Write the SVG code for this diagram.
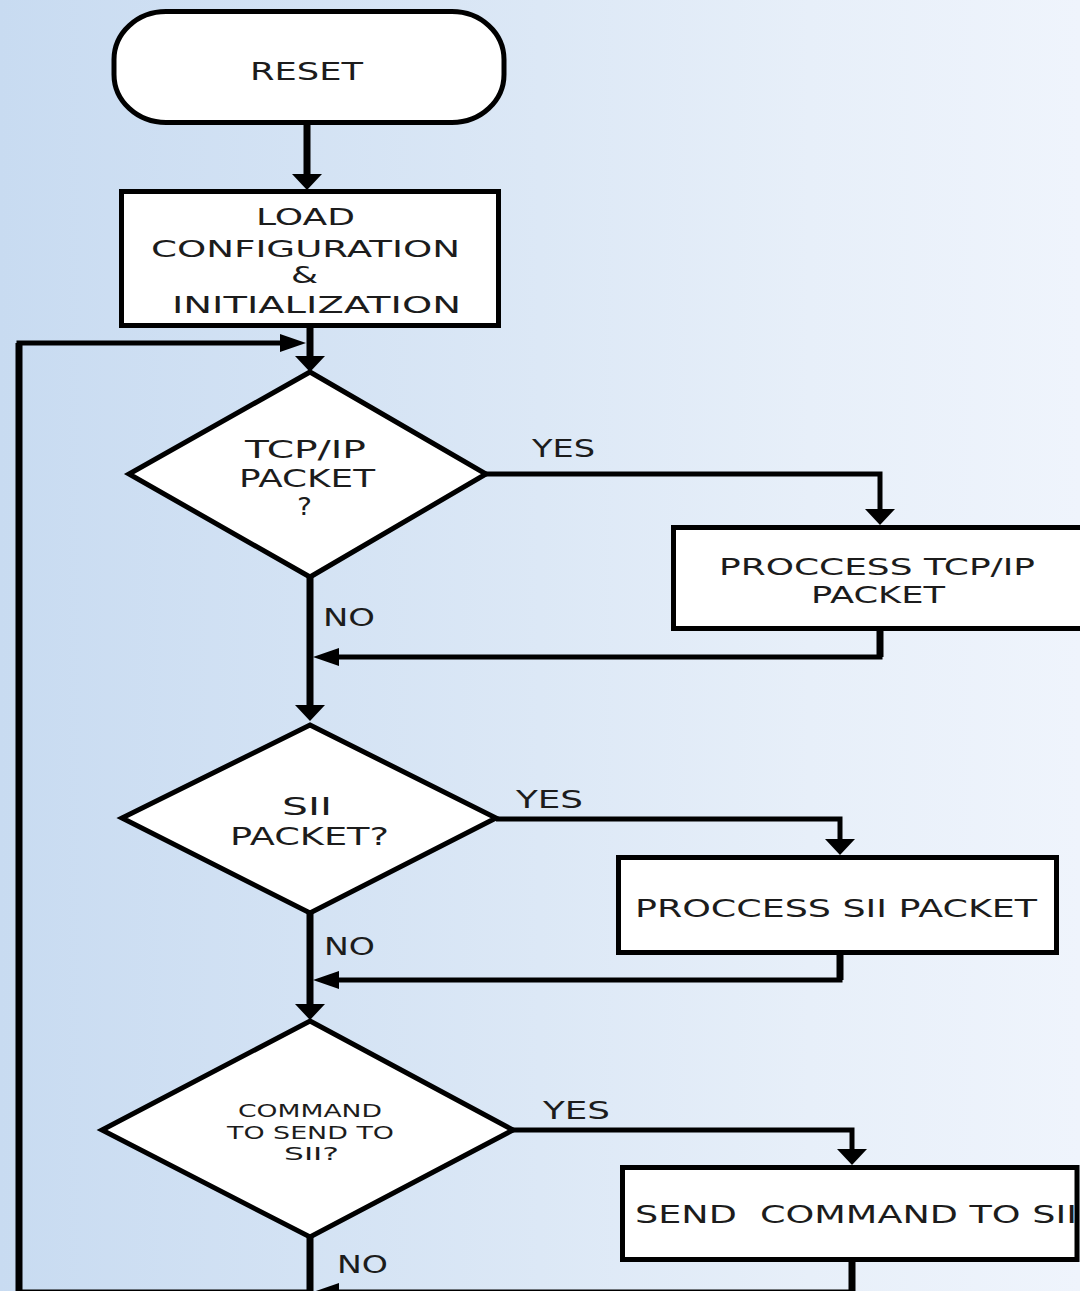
<svg xmlns="http://www.w3.org/2000/svg" width="1080" height="1291" viewBox="0 0 1080 1291">
<defs>
<linearGradient id="bg" x1="0" y1="0" x2="1" y2="0">
<stop offset="0" stop-color="#c8dbf1"/>
<stop offset="0.5" stop-color="#dce8f6"/>
<stop offset="0.75" stop-color="#e7eff9"/>
<stop offset="1" stop-color="#eff4fc"/>
</linearGradient>
<marker id="arrD" markerUnits="userSpaceOnUse" viewBox="0 0 16 30" refX="6" refY="15" markerWidth="16" markerHeight="30" orient="auto">
<path d="M0,0 L16,15 L0,30 Z" fill="#000"/>
</marker>
<marker id="arrH" markerUnits="userSpaceOnUse" viewBox="0 0 26 18" refX="12" refY="9" markerWidth="26" markerHeight="18" orient="auto">
<path d="M0,0 L26,9 L0,18 Z" fill="#000"/>
</marker>
<style>
.shape{fill:#fff;stroke:#000;stroke-width:5}
.t{font-family:"DejaVu Sans",Verdana,"Liberation Sans",sans-serif;fill:#1c1c1c;text-anchor:middle}
.c{fill:none;stroke:#000;stroke-width:5;stroke-linejoin:miter}
.v{fill:none;stroke:#000;stroke-width:7}
</style>
</defs>
<rect x="0" y="0" width="1080" height="1291" fill="url(#bg)"/>

<g id="connectors">
<path class="v" d="M307,124 V180" marker-end="url(#arrD)"/>
<path class="v" d="M310,328 V362" marker-end="url(#arrD)"/>
<path class="c" d="M19,1295 V343 H292" marker-end="url(#arrH)"/>
<path class="c" d="M486,474 H880 V515" marker-end="url(#arrD)"/>
<path class="c" d="M880,631 V657 H327" marker-end="url(#arrH)"/>
<path class="v" d="M310,577 V711" marker-end="url(#arrD)"/>
<path class="c" d="M496,819 H840 V845" marker-end="url(#arrD)"/>
<path class="c" d="M840,955 V980 H327" marker-end="url(#arrH)"/>
<path class="v" d="M310,913 V1010" marker-end="url(#arrD)"/>
<path class="c" d="M513,1130 H852 V1155" marker-end="url(#arrD)"/>
<path class="c" d="M852,1262 V1292 H327" marker-end="url(#arrH)"/>
<path class="c" d="M19,1292 H310"/>
<path class="v" d="M310,1237 V1295"/>
<path class="v" d="M19,1295 V343"/>
<path class="v" d="M880,631 V657"/>
<path class="v" d="M840,955 V980"/>
<path class="v" d="M852,1262 V1295"/>
</g>

<g id="reset">
<rect class="shape" x="114" y="11.5" width="390" height="111" rx="52" ry="48" stroke-width="4.5"/>
<text class="t" transform="scale(1.4,1)" x="218.93" y="80" font-size="25" textLength="80.71" lengthAdjust="spacingAndGlyphs">RESET</text>
</g>

<g id="load">
<rect class="shape" x="121.5" y="191.5" width="377" height="134"/>
<text class="t" transform="scale(1.4,1)" x="218.21" y="225" font-size="23" textLength="70.71" lengthAdjust="spacingAndGlyphs">LOAD</text>
<text class="t" transform="scale(1.4,1)" x="218.21" y="257" font-size="23" textLength="220.71" lengthAdjust="spacingAndGlyphs">CONFIGURATION</text>
<text class="t" transform="scale(1.4,1)" x="217.5" y="283" font-size="23" textLength="19.29" lengthAdjust="spacingAndGlyphs">&amp;</text>
<text class="t" transform="scale(1.4,1)" x="226.07" y="313" font-size="23" textLength="206.43" lengthAdjust="spacingAndGlyphs">INITIALIZATION</text>
</g>

<g id="tcpip-decision">
<polygon class="shape" points="310,372 486,474 310,577 129,474"/>
<text class="t" transform="scale(1.4,1)" x="218.21" y="458" font-size="24" textLength="86.43" lengthAdjust="spacingAndGlyphs">TCP/IP</text>
<text class="t" transform="scale(1.4,1)" x="219.29" y="487" font-size="24" textLength="97.14" lengthAdjust="spacingAndGlyphs">PACKET</text>
<text class="t" transform="scale(1.4,1)" x="217.5" y="515" font-size="24" textLength="10.71" lengthAdjust="spacingAndGlyphs">?</text>
</g>

<g id="process-tcpip">
<rect class="shape" x="673.5" y="527.5" width="420" height="101"/>
<text class="t" transform="scale(1.4,1)" x="626.43" y="575" font-size="23" textLength="225.71" lengthAdjust="spacingAndGlyphs">PROCCESS TCP/IP</text>
<text class="t" transform="scale(1.4,1)" x="627.14" y="603" font-size="23" textLength="95.71" lengthAdjust="spacingAndGlyphs">PACKET</text>
</g>

<g id="sii-decision">
<polygon class="shape" points="310,725 496,818 310,913 122,818"/>
<text class="t" transform="scale(1.4,1)" x="219.29" y="815" font-size="24" textLength="35.71" lengthAdjust="spacingAndGlyphs">SII</text>
<text class="t" transform="scale(1.4,1)" x="221.07" y="845" font-size="24" textLength="113.57" lengthAdjust="spacingAndGlyphs">PACKET?</text>
</g>

<g id="process-sii">
<rect class="shape" x="618.5" y="857.5" width="438" height="95"/>
<text class="t" transform="scale(1.4,1)" x="597.14" y="917" font-size="25" textLength="287.14" lengthAdjust="spacingAndGlyphs">PROCCESS SII PACKET</text>
</g>

<g id="command-decision">
<polygon class="shape" points="310,1021 513,1130 310,1237 102,1130"/>
<text class="t" transform="scale(1.4,1)" x="221.43" y="1117" font-size="17" textLength="102.86" lengthAdjust="spacingAndGlyphs">COMMAND</text>
<text class="t" transform="scale(1.4,1)" x="221.79" y="1139" font-size="18" textLength="119.29" lengthAdjust="spacingAndGlyphs">TO SEND TO</text>
<text class="t" transform="scale(1.4,1)" x="222.5" y="1160" font-size="18" textLength="39.29" lengthAdjust="spacingAndGlyphs">SII?</text>
</g>

<g id="send-command">
<rect class="shape" x="622.5" y="1167.5" width="454.5" height="92"/>
<text class="t" transform="scale(1.4,1)" x="453.57" y="1223" font-size="24" style="text-anchor:start;white-space:pre" textLength="315.71" lengthAdjust="spacingAndGlyphs">SEND  COMMAND TO SII</text>
</g>

<g id="labels">
<text class="t" transform="scale(1.4,1)" x="402.5" y="457" font-size="24" textLength="45" lengthAdjust="spacingAndGlyphs">YES</text>
<text class="t" transform="scale(1.4,1)" x="249.29" y="626" font-size="24" textLength="37.14" lengthAdjust="spacingAndGlyphs">NO</text>
<text class="t" transform="scale(1.4,1)" x="392.5" y="808" font-size="24" textLength="47.86" lengthAdjust="spacingAndGlyphs">YES</text>
<text class="t" transform="scale(1.4,1)" x="249.64" y="955" font-size="24" textLength="36.43" lengthAdjust="spacingAndGlyphs">NO</text>
<text class="t" transform="scale(1.4,1)" x="411.79" y="1119" font-size="24" textLength="47.86" lengthAdjust="spacingAndGlyphs">YES</text>
<text class="t" transform="scale(1.4,1)" x="258.93" y="1273" font-size="24" textLength="36.43" lengthAdjust="spacingAndGlyphs">NO</text>
</g>
</svg>
